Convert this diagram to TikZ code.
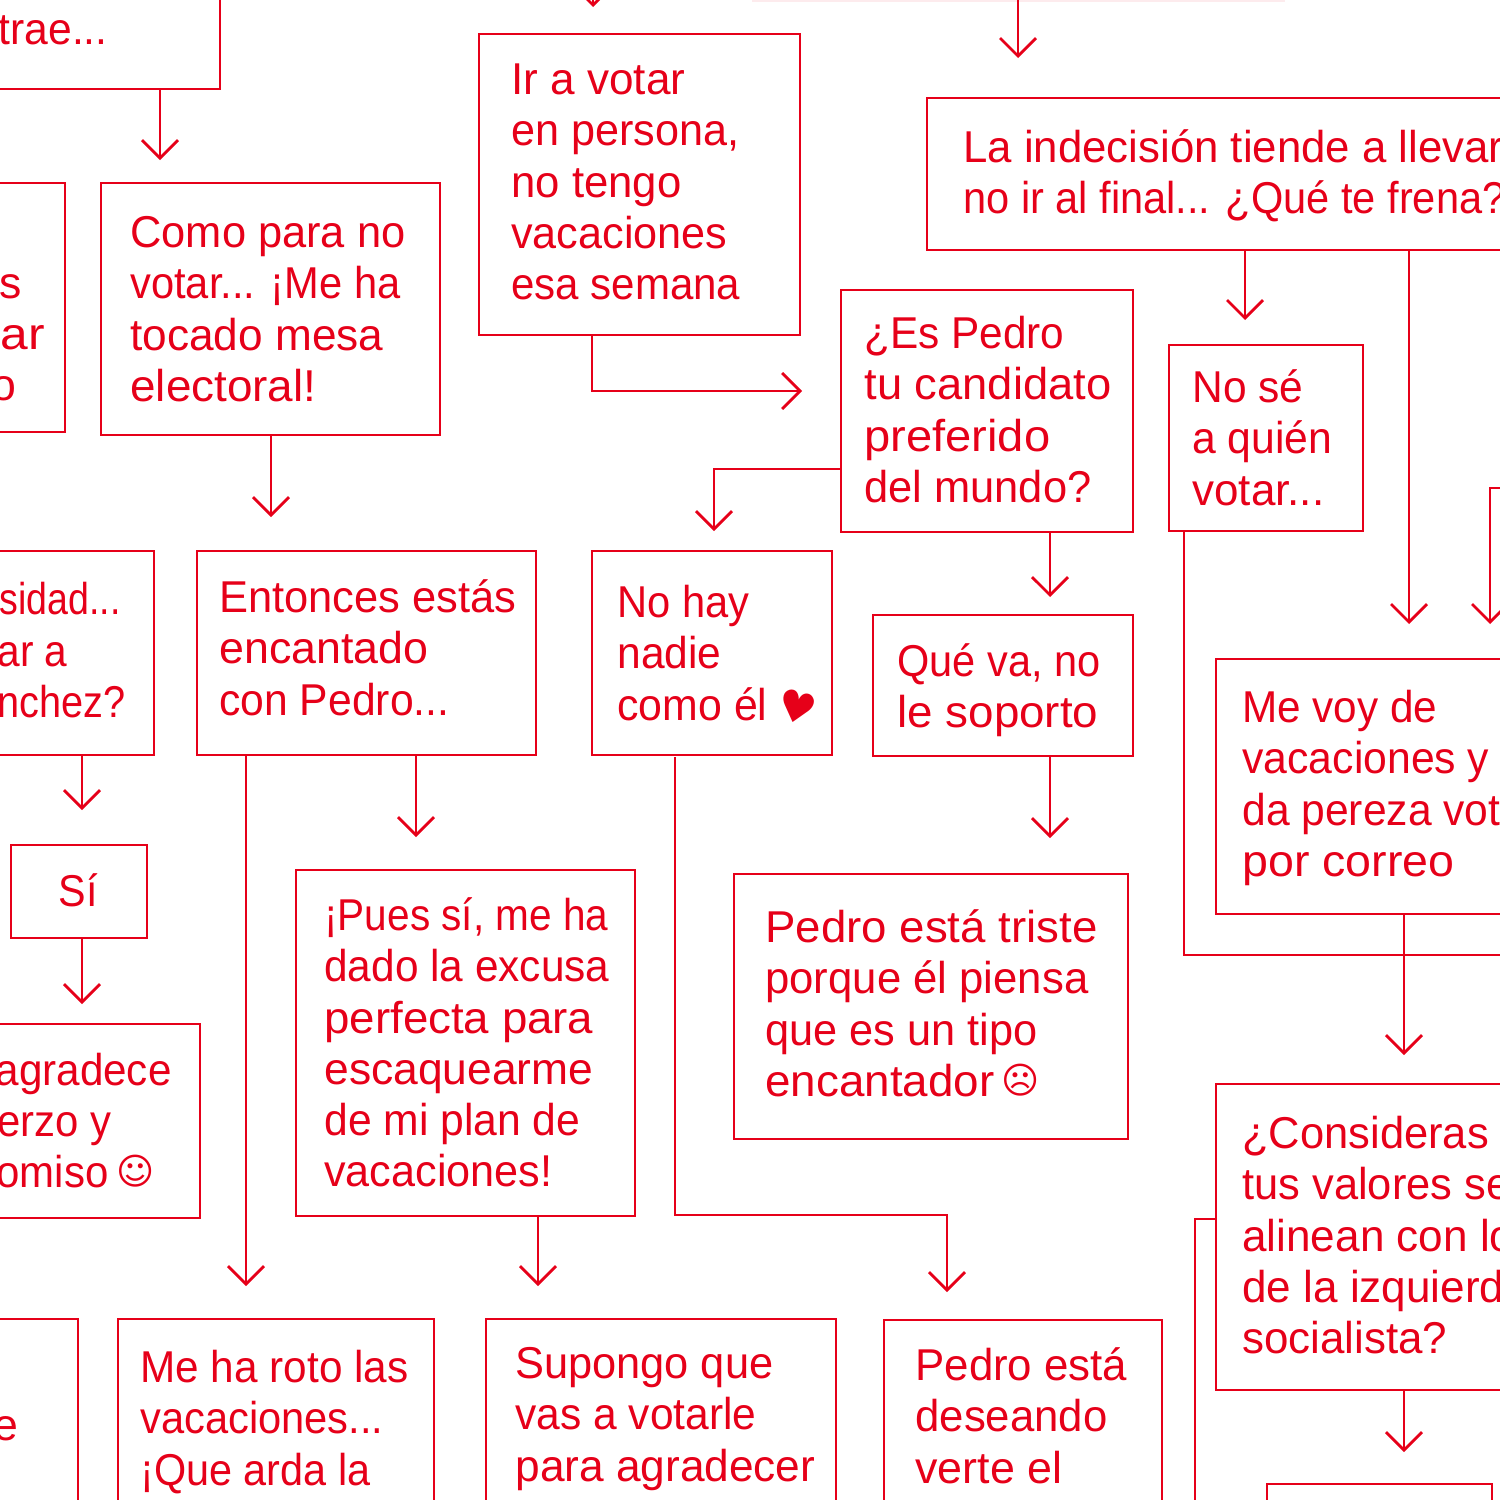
\documentclass[tikz,border=0pt]{standalone}
\usepackage{fontspec}
\usepackage{graphicx}
\setmainfont{Liberation Sans}
\newfontfamily\symf{DejaVu Sans}
\usetikzlibrary{arrows.meta}
\definecolor{flow}{HTML}{E60019}
\tikzset{
  x=0.5pt,y=-0.5pt,
  boxn/.style={draw=flow,line width=1.35pt,rectangle,inner sep=0pt},
  lab/.style={text=flow,inner sep=0pt,align=left,anchor=north west,font=\fontsize{22.3pt}{25.65pt}\selectfont},
  labr/.style={text=flow,inner sep=0pt,anchor=base east,font=\fontsize{22.3pt}{25.65pt}\selectfont},
  syml/.style={text=flow,inner sep=0pt,anchor=base west,font=\symf\fontsize{18.3pt}{20pt}\selectfont},
  link/.style={draw=flow,line width=1.35pt},
  arr/.style={link,-{Straight Barb[length=9pt,width=16.5pt,line width=1.35pt,angle'=90]}},
}
% \bx{name}{x1}{y1}{x2}{y2}
\newcommand{\bx}[5]{\node[boxn,minimum width={(#4-#2)*0.5pt},minimum height={(#5-#3)*0.5pt}] (#1) at ({(#2+#4)/2},{(#3+#5)/2}) {};}
% a line of text brought to a given width in picture pixels
\newcommand{\wl}[2]{\resizebox{#1\dimexpr0.5pt\relax}{\height}{#2}}
\newcommand{\fl}{\rule{0pt}{20pt}}
\newcommand{\tx}[4]{\node[lab] (#1) at (#2,{#3-41}) {\fl #4};}
\begin{document}
\begin{tikzpicture}
\useasboundingbox (0,0) rectangle (1500,1500);
\clip (0,0) rectangle (1500,1500);
\fill[flow!8] (752,0) rectangle (1285,1.5);
% boxes
\bx{a}{-100}{-100}{220}{89}
\bx{b}{479}{34}{800}{335}
\bx{c}{927}{98}{1600}{250}
\bx{d}{-50}{183}{65}{432}
\bx{e}{101}{183}{440}{435}
\bx{f}{841}{290}{1133}{532}
\bx{g}{1169}{345}{1363}{531}
\bx{h}{-100}{551}{154}{755}
\bx{i}{197}{551}{536}{755}
\bx{j}{592}{551}{832}{755}
\bx{k}{873}{615}{1133}{756}
\bx{l}{1216}{659}{1600}{914}
\bx{n}{11}{845}{147}{938}
\bx{o}{-100}{1024}{200}{1218}
\bx{p}{296}{870}{635}{1216}
\bx{q}{734}{874}{1128}{1139}
\bx{r}{-100}{1319}{78}{1600}
\bx{s}{118}{1319}{434}{1600}
\bx{t}{486}{1319}{836}{1600}
\bx{u}{884}{1320}{1162}{1600}
\bx{v}{1216}{1084}{1600}{1390}
\bx{w}{1267}{1484}{1492}{1600}
% free ends
\coordinate (top1a) at (593,-30); \coordinate (top1b) at (593,7);
\coordinate (top2a) at (1018,0); \coordinate (top2b) at (1018,58);
\coordinate (ae) at (160,160);
\coordinate (cg) at (1245,320);
\coordinate (cl) at (1409,624);
\coordinate (xr) at (1520,488); \coordinate (xl) at (1490,624);
\coordinate (bf) at (802,391);
\coordinate (fj) at (714,531);
\coordinate (fk) at (1050,597);
\coordinate (ei) at (271,517);
\coordinate (hn) at (82,810);
\coordinate (no) at (82,1004);
\coordinate (ip) at (416,837);
\coordinate (is) at (246,1286);
\coordinate (ju) at (947,1292);
\coordinate (kq) at (1050,838);
\coordinate (pt) at (538,1286);
\coordinate (gr) at (1520,955);
\coordinate (lv) at (1404,1055);
\coordinate (vw) at (1404,1452);
\coordinate (vb) at (1195,1520);
% connectors
\draw[arr] (top1a) -- (top1b);
\draw[arr] (top2a) -- (top2b);
\draw[arr] (a.south -| ae) -- (ae);
\draw[arr] (c.south -| cg) -- (cg);
\draw[arr] (c.south -| cl) -- (cl);
\draw[arr] (xr) -| (xl);
\draw[arr] (b.south -| 592,0) -- (592,391) -- (bf);
\draw[arr] (f.west |- 0,469) -| (fj);
\draw[arr] (f.south -| fk) -- (fk);
\draw[arr] (e.south -| ei) -- (ei);
\draw[arr] (h.south -| hn) -- (hn);
\draw[arr] (n.south -| no) -- (no);
\draw[arr] (i.south -| ip) -- (ip);
\draw[arr] (i.south -| is) -- (is);
\draw[arr] (675,757) -- (675,1215) -| (ju);
\draw[arr] (k.south -| kq) -- (kq);
\draw[arr] (p.south -| pt) -- (pt);
\draw[link] (g.south -| 1184,0) |- (gr);
\draw[arr] (l.south -| lv) -- (lv);
\draw[arr] (v.south -| vw) -- (vw);
\draw[link] (v.west |- 0,1219) -| (vb);
% texts
\node[labr] (ta) at (108,44) {\wl{109}{trae...}};
\tx{tb}{511}{95}{\wl{174}{Ir a votar}\\\wl{228}{en persona,}\\\wl{170}{no tengo}\\\wl{216}{vacaciones}\\\wl{229}{esa semana}}
\tx{tc}{963}{163}{\wl{540}{La indecisión tiende a llevar}\\\wl{542}{no ir al final... ¿Qué te frena?}}
\node[labr] (td1) at (22,298) {s};
\node[labr] (td2) at (45,349) {\wl{58}{tar}};
\node[labr] (td3) at (17,400) {o};
\tx{te}{130}{248}{\wl{275}{Como para no}\\\wl{270}{votar... ¡Me ha}\\\wl{253}{tocado mesa}\\\wl{186}{electoral!}}
\tx{tf}{864}{349}{\wl{200}{¿Es Pedro}\\\wl{247}{tu candidato}\\\wl{186}{preferido}\\\wl{227}{del mundo?}}
\tx{tg}{1192}{403}{\wl{111}{No sé}\\\wl{140}{a quién}\\\wl{132}{votar...}}
\node[labr] (th1) at (121,614) {\wl{121}{sidad...}};
\node[labr] (th2) at (68,666) {\wl{70}{ar a}};
\node[labr] (th3) at (126,717) {\wl{128}{nchez?}};
\tx{ti}{219}{613}{\wl{297}{Entonces estás}\\\wl{209}{encantado}\\\wl{230}{con Pedro...}}
\tx{tj}{617}{618}{\wl{132}{No hay}\\\wl{104}{nadie}\\\wl{150}{como él}}
\node[text=flow,inner sep=0pt,font=\symf\fontsize{21.5pt}{25pt}\selectfont,rotate=-15] (hrt) at (797,707) {\char"2665};
\tx{tk}{897}{677}{\wl{203}{Qué va, no}\\\wl{201}{le soporto}}
\tx{tl}{1242}{723}{\wl{195}{Me voy de}\\\wl{247}{vacaciones y}\\\wl{258}{da pereza vot}\\\wl{212}{por correo}}
\node[labr] (tn) at (98,906) {\wl{39}{Sí}};
\node[labr] (to1) at (172,1085) {\wl{176}{agradece}};
\node[labr] (to2) at (112,1136) {\wl{114}{erzo y}};
\node[labr] (to3) at (109,1187) {\wl{112}{omiso}};
\node[syml] (smi) at (116.5,1184) {\char"263A};
\tx{tp}{324}{931}{\wl{284}{¡Pues sí, me ha}\\\wl{285}{dado la excusa}\\\wl{269}{perfecta para}\\\wl{269}{escaquearme}\\\wl{256}{de mi plan de}\\\wl{228}{vacaciones!}}
\tx{tq}{765}{943}{\wl{332}{Pedro está triste}\\\wl{323}{porque él piensa}\\\wl{272}{que es un tipo}\\\wl{229}{encantador}}
\node[syml] (sad) at (1001,1093) {\char"2639};
\node[labr] (tr) at (19,1440) {e};
\tx{ts}{140}{1383}{\wl{268}{Me ha roto las}\\\wl{243}{vacaciones...}\\\wl{230}{¡Que arda la}}
\tx{tt}{515}{1379}{\wl{258}{Supongo que}\\\wl{241}{vas a votarle}\\\wl{300}{para agradecer}}
\tx{tu}{915}{1381}{\wl{212}{Pedro está}\\\wl{192}{deseando}\\\wl{147}{verte el}}
\tx{tv}{1242}{1149}{\scalebox{0.975}[1]{¿Consideras q}\\\wl{268}{tus valores se}\\\wl{272}{alinean con lo}\\\wl{262}{de la izquierd}\\\wl{205}{socialista?}}
\end{tikzpicture}
\end{document}
